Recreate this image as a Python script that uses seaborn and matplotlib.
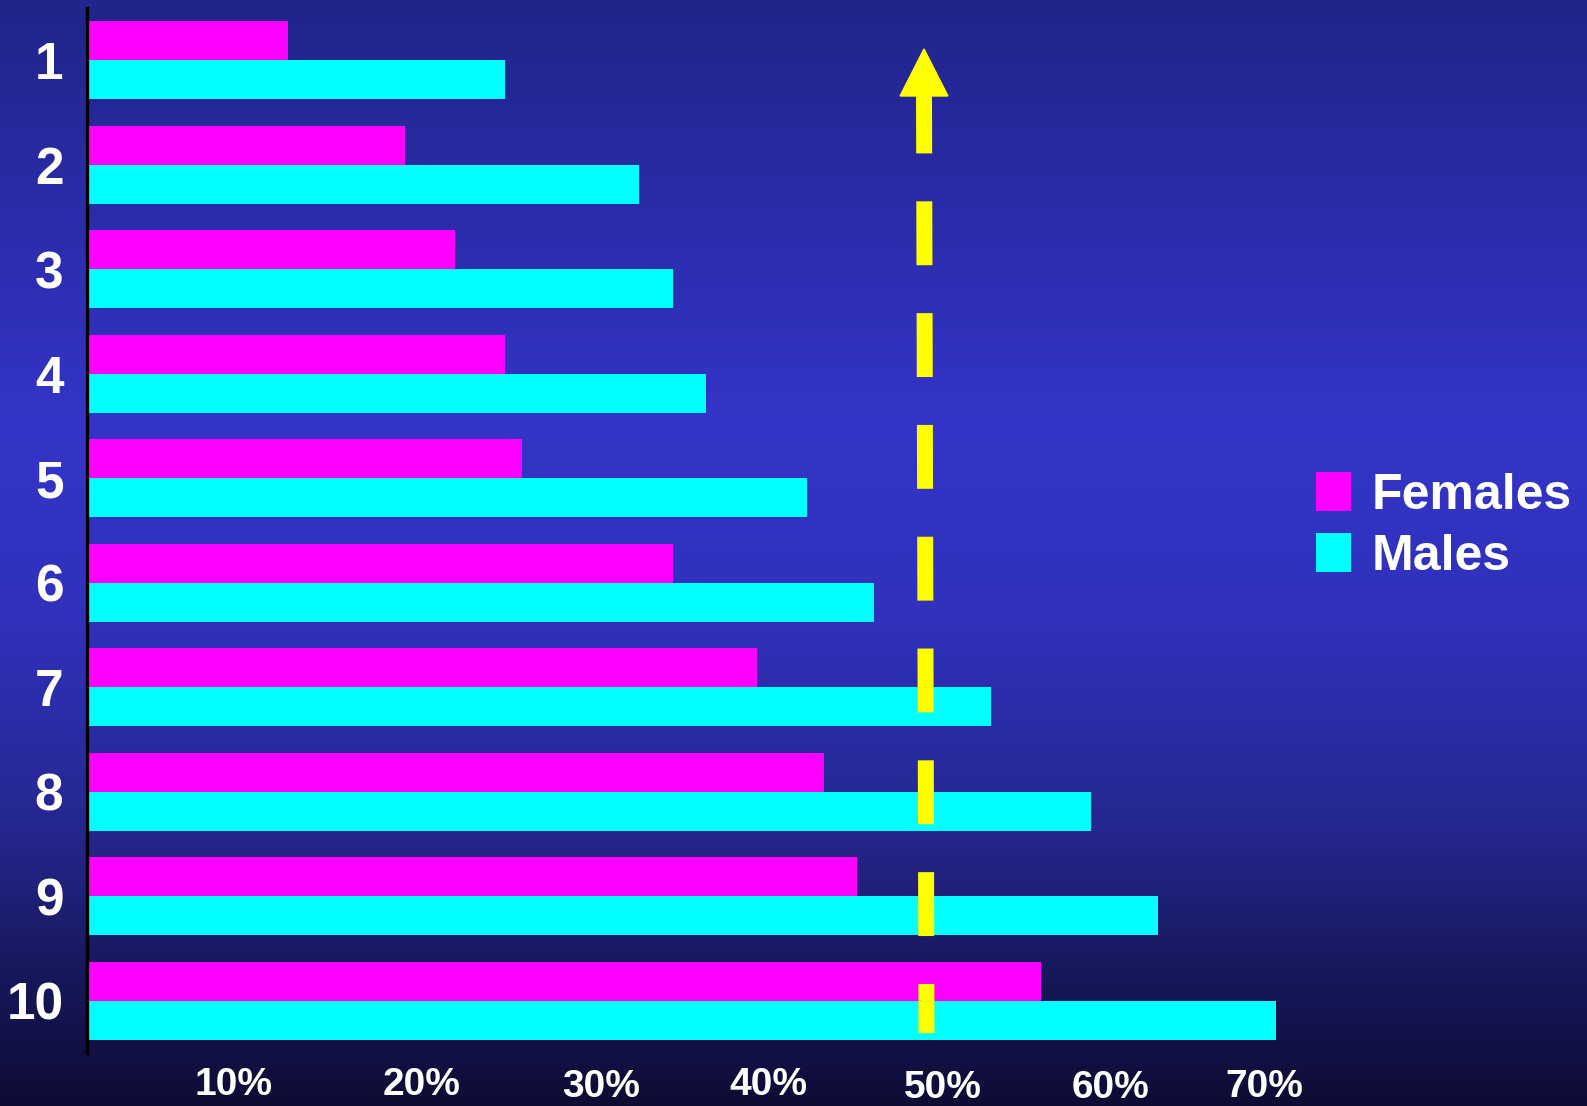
import numpy as np
import pandas as pd
import matplotlib
matplotlib.use("Agg")
import matplotlib.pyplot as plt
from matplotlib.colors import LinearSegmentedColormap
from matplotlib.patches import Polygon
from matplotlib.transforms import ScaledTranslation
import seaborn as sns

# ---- data ----
ranks = ["1", "2", "3", "4", "5", "6", "7", "8", "9", "10"]
females = [12, 19, 22, 25, 26, 35, 40, 44, 46, 57]
males = [25, 33, 35, 37, 43, 47, 54, 60, 64, 71]
series_names = ["Females", "Males"]
x_ticks = [10, 20, 30, 40, 50, 60, 70]
x_tick_labels = ["10%", "20%", "30%", "40%", "50%", "60%", "70%"]
threshold = 50

df = pd.DataFrame({
    "rank": ranks * 2,
    "sex": [series_names[0]] * len(ranks) + [series_names[1]] * len(ranks),
    "value": females + males,
})

sns.set_theme(style="white")
plt.rcParams["font.family"] = ["Liberation Sans", "DejaVu Sans"]
plt.rcParams["lines.scale_dashes"] = False

W, H = 1587, 1106
fig = plt.figure(figsize=(W / 100, H / 100), dpi=100)

# background gradient
bg = fig.add_axes([0, 0, 1, 1], zorder=-10)
stops = [(0.0, "#21248A"), (0.38, "#3434C8"), (0.55, "#3131BE"),
         (0.75, "#25278F"), (0.88, "#16185C"), (1.0, "#0E0C34")]
cmap = LinearSegmentedColormap.from_list("bg", stops)
grad = np.linspace(0, 1, 512).reshape(-1, 1)
bg.imshow(grad, aspect="auto", cmap=cmap, extent=[0, 1, 1, 0])
bg.axis("off")

left, top, bottom = 87, 8, 1053
ax = fig.add_axes([left / W, 1 - bottom / H, (W - left) / W, (bottom - top) / H])
ax.set_facecolor("none")

sns.barplot(data=df, y="rank", x="value", hue="sex", orient="h",
            palette=["#FF00FF", "#00FFFF"], width=0.75, saturation=1,
            ax=ax, linewidth=0)

ax.set_xlim(0, (W - left) / 16.74)
ax.set_ylim(9.5, -0.5)

# dashed threshold arrow (drawn top -> bottom so the dash pattern starts at the top)
line, = ax.plot([threshold, threshold + 0.15], [0.28, 9.31], color="#FFFF00",
                lw=11.5, solid_capstyle="butt", dash_capstyle="butt", zorder=5)
line.set_dashes((46, 34.5))
ax.add_patch(Polygon([[threshold, -0.108], [threshold - 1.43, 0.342], [threshold + 1.43, 0.342]],
                     closed=True, color="#FFFF00", zorder=6))

for s in ["top", "right", "bottom"]:
    ax.spines[s].set_visible(False)
ax.spines["left"].set_color("black")
ax.spines["left"].set_linewidth(2.4)
ax.spines["left"].set_zorder(7)

ax.set_xticks(x_ticks)
ax.set_xticklabels(x_tick_labels)
ax.tick_params(axis="x", length=0, pad=10, labelsize=28, labelcolor="white")
ax.tick_params(axis="y", length=0, pad=17, labelsize=37, labelcolor="white")
for lab in ax.get_xticklabels() + ax.get_yticklabels():
    lab.set_fontweight("bold")
# slight hand-placement offsets of the x labels (pixels) as in the original slide
dx = [-21, 0, 12, 12, 19, 19, 6]
dy = [0, 0, -2, 0, -3, -3, -2]
for lab, ox, oy in zip(ax.get_xticklabels(), dx, dy):
    lab.set_transform(lab.get_transform() + ScaledTranslation(ox / 100, oy / 100, fig.dpi_scale_trans))
ax.set_xlabel("")
ax.set_ylabel("")

handles, labels = ax.get_legend_handles_labels()
leg = ax.legend(handles, labels, loc="center left",
                bbox_to_anchor=(1316 / W, 1 - 526 / H), bbox_transform=fig.transFigure,
                frameon=False, fontsize=36, handlelength=0.7, handleheight=0.82,
                handletextpad=0.42, labelspacing=0.27, borderpad=0, borderaxespad=0,
                title=None)
for t in leg.get_texts():
    t.set_color("white")
    t.set_fontweight("bold")

fig.savefig("out.png", dpi=100)
